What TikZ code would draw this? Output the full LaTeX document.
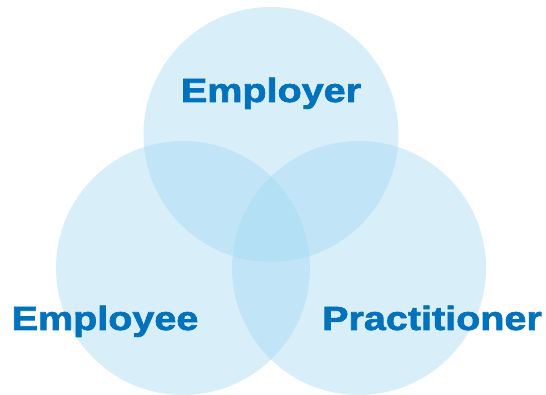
\documentclass[tikz,border=0pt]{standalone}
\usepackage{fontspec}
\setmainfont{Liberation Sans}[FakeStretch=1.18,BoldFeatures={FakeBold=2}]
\definecolor{circfill}{RGB}{158,215,242}
\definecolor{labelblue}{RGB}{0,114,188}
\begin{document}
\begin{tikzpicture}[x=1pt,y=1pt,
  venn/.style={fill=circfill,fill opacity=0.4,draw=none},
  lbl/.style={text=labelblue,font=\fontsize{33.5}{36}\selectfont\bfseries,anchor=base,inner sep=0pt}]
\useasboundingbox (0,0) rectangle (546,395);
\fill[venn] (271,260.5) circle (127.5);
\fill[venn] (183,127) circle (127);
\fill[venn] (359,127) circle (127);
\node[lbl] (employer) at (271,293) {Employer};
\node[lbl] (employee) at (105,65) {Employee};
\node[lbl] (practitioner) at (432,65) {Practitioner};
\end{tikzpicture}
\end{document}
